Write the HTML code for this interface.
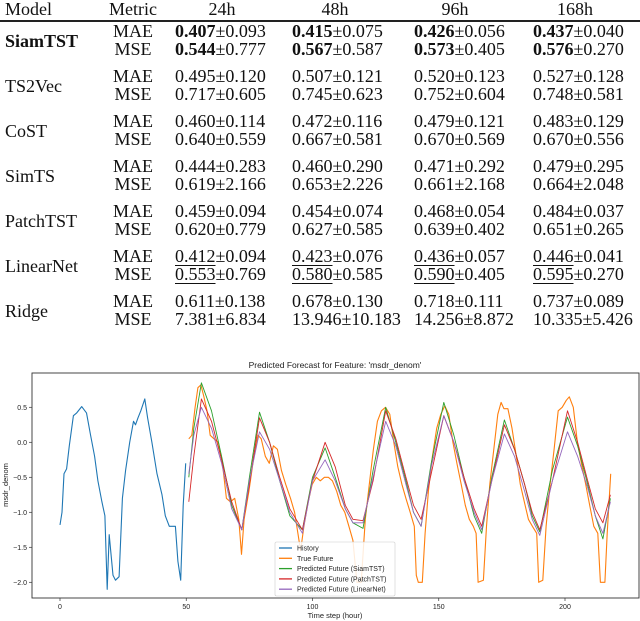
<!DOCTYPE html>
<html><head><meta charset="utf-8">
<style>
body{margin:0;width:640px;height:621px;background:#fff;position:relative;overflow:hidden;font-family:"Liberation Serif",serif;}
.t{position:absolute;font-size:18px;line-height:18px;color:#111;white-space:nowrap;}
.c{transform:translateX(-50%);}
b{font-weight:bold}
u{text-decoration:underline;text-underline-offset:3px}
</style></head><body>
<div id="tbl"></div>
<div style="position:absolute;left:0;top:20px;width:640px;height:1.5px;background:#222"></div>
<svg id="chart" width="640" height="621" style="position:absolute;left:0;top:0" font-family="Liberation Sans, sans-serif"></svg>
<script>
// ---- table data ----
const models=["SiamTST","TS2Vec","CoST","SimTS","PatchTST","LinearNet","Ridge"];
const horizons=["24h","48h","96h","168h"];
const maeVals=[["0.407±0.093","0.415±0.075","0.426±0.056","0.437±0.040"],["0.495±0.120","0.507±0.121","0.520±0.123","0.527±0.128"],["0.460±0.114","0.472±0.116","0.479±0.121","0.483±0.129"],["0.444±0.283","0.460±0.290","0.471±0.292","0.479±0.295"],["0.459±0.094","0.454±0.074","0.468±0.054","0.484±0.037"],["0.412±0.094","0.423±0.076","0.436±0.057","0.446±0.041"],["0.611±0.138","0.678±0.130","0.718±0.111","0.737±0.089"]];
const mseVals=[["0.544±0.777","0.567±0.587","0.573±0.405","0.576±0.270"],["0.717±0.605","0.745±0.623","0.752±0.604","0.748±0.581"],["0.640±0.559","0.667±0.581","0.670±0.569","0.670±0.556"],["0.619±2.166","0.653±2.226","0.661±2.168","0.664±2.048"],["0.620±0.779","0.627±0.585","0.639±0.402","0.651±0.265"],["0.553±0.769","0.580±0.585","0.590±0.405","0.595±0.270"],["7.381±6.834","13.946±10.183","14.256±8.872","10.335±5.426"]];
const tbl=document.getElementById('tbl');
function cell(txt,x,y,center,name){const d=document.createElement('div');d.className='t'+(center?' c':'');d.style.left=x+'px';d.style.top=(y-9)+'px';d.innerHTML=txt;


tbl.appendChild(d);}
cell('Model',5,9,false,'header-model');cell('Metric',133,9,true,'header-metric');
const hx=[222,335,455,575],vx=[175,292,414,533];
horizons.forEach((h,i)=>cell(h,hx[i],9,true,'header-'+h));
function fmt(s,gi){const p=s.split('±');if(gi===0)return '<b>'+p[0]+'</b>±'+p[1];if(gi===5)return '<u>'+p[0]+'</u>±'+p[1];return s;}
models.forEach((m,g)=>{const y=31+45*g;
cell(g===0?'<b>'+m+'</b>':m,5,y+10,false,'model-'+m.toLowerCase());
cell('MAE',133,y,true,'metric-mae');cell('MSE',133,y+18,true,'metric-mse');
for(let i=0;i<4;i++){cell(fmt(maeVals[g][i],g),vx[i],y,false,'mae-value');cell(fmt(mseVals[g][i],g),vx[i],y+18,false,'mse-value');}
});

// ---- chart data ----
const histT=[0,0.8,1.6,2.6,3.7,5.3,6.6,8.6,10.5,12.1,13.7,15.0,16.6,17.8,18.7,19.5,21.0,22.0,23.4,24.7,26.0,27.6,29.1,29.9,30.9,32.0,33.6,34.7,36.4,38.4,40.4,41.7,43.3,45.7,46.7,47.8,48.8,49.8];
const histV=[-1.18,-1.0,-0.45,-0.38,-0.05,0.38,0.42,0.51,0.42,0.1,-0.2,-0.55,-0.85,-1.05,-2.1,-1.32,-1.9,-1.97,-1.92,-0.8,-0.4,0.0,0.3,0.25,0.35,0.45,0.62,0.35,0.0,-0.45,-0.75,-1.05,-1.2,-1.2,-1.7,-1.97,-0.9,-0.3];
const trueT=[51,52.2,53.5,54.6,55.8,57,58.2,59.5,61,62.7,64.3,65.9,67.5,69.2,70.8,71.9,72.9,74.8,76.8,78.4,79.7,81.3,82.9,84.5,86.1,87.7,89.4,91.3,92.9,94.2,95.3,96.6,98.3,99.9,101.5,103.1,104.7,106.3,107.9,109.6,111.2,112.8,114.4,116,117.6,119.3,120.9,122.5,124.1,125.7,127.3,128.9,130.6,132.2,133.8,135.4,137,138.7,140.3,141.1,141.9,143.5,144.6,145.9,147.5,149.2,150.8,152.4,154,155.6,157.2,158.9,160.5,162.1,163.7,164.8,165.6,167.7,168.9,170.2,171.8,173.4,174.7,175.8,177.4,179,180.7,182.3,183.9,185.5,187.1,188.8,189.6,191.2,192.5,194.1,195.7,197.3,198.9,200.5,201.7,203.3,204.9,206.5,208.2,209.8,211.4,213,214,215.8,216.7,218.1];
const trueV=[0.05,0.1,0.5,0.78,0.82,0.65,0.45,0.1,0.05,0.0,-0.3,-0.8,-0.85,-0.8,-1.1,-1.6,-1.1,-0.7,-0.2,0.1,0.05,-0.2,-0.3,-0.05,-0.1,-0.4,-0.6,-0.8,-1.0,-1.3,-1.55,-1.2,-0.85,-0.6,-0.5,-0.55,-0.5,-0.5,-0.55,-0.7,-0.9,-1.0,-1.2,-1.4,-2.0,-2.0,-1.1,-0.6,-0.1,0.3,0.45,0.5,0.4,0.0,-0.35,-0.6,-0.8,-1.0,-1.2,-1.9,-2.0,-2.0,-1.3,-0.7,-0.2,0.2,0.4,0.52,0.4,0.0,-0.3,-0.6,-0.9,-1.1,-1.2,-1.3,-2.0,-1.97,-1.2,-0.6,-0.1,0.4,0.57,0.48,0.48,0.2,-0.2,-0.6,-0.85,-1.1,-1.2,-1.3,-2.0,-1.97,-1.2,-0.6,-0.1,0.45,0.5,0.6,0.65,0.5,0.0,-0.3,-0.6,-0.9,-1.2,-1.3,-2.0,-2.0,-1.3,-0.45];
const predT=[51,53,56,60,64,68,72,75,79,83,87,91,96,100,105,109,113,116,120,124,129,133,137,140,143,147,152,156,160,164,167,171,176,180,184,187,190,195,201,205,209,212,215,218];
const siamV=[-0.5,0.2,0.85,0.45,-0.2,-0.9,-1.25,-0.5,0.43,0.0,-0.55,-1.05,-1.25,-0.5,-0.08,-0.5,-0.95,-1.15,-1.23,-0.4,0.5,0.0,-0.55,-1.0,-1.2,-0.3,0.57,0.1,-0.5,-1.05,-1.3,-0.5,0.32,-0.1,-0.6,-1.05,-1.28,-0.4,0.36,-0.05,-0.6,-1.05,-1.38,-0.8];
const patchV=[-0.85,-0.2,0.62,0.3,-0.25,-0.85,-1.25,-0.6,0.35,0.0,-0.5,-0.95,-1.25,-0.55,0.0,-0.35,-0.9,-1.1,-1.12,-0.55,0.45,0.05,-0.5,-0.9,-1.1,-0.45,0.38,0.0,-0.5,-0.95,-1.2,-0.55,0.25,-0.1,-0.6,-1.0,-1.25,-0.55,0.45,0.0,-0.55,-0.95,-1.15,-0.75];
const linV=[-0.45,0.1,0.5,0.2,-0.3,-0.95,-1.25,-0.55,0.15,-0.1,-0.55,-1.0,-1.3,-0.55,-0.25,-0.55,-0.95,-1.15,-1.15,-0.5,0.3,-0.05,-0.6,-1.0,-1.2,-0.35,0.38,0.0,-0.55,-1.0,-1.25,-0.55,0.12,-0.2,-0.7,-1.1,-1.33,-0.55,0.15,-0.2,-0.65,-1.05,-1.3,-0.85];
const xTicks=[0,50,100,150,200];
const yTicks=[0.5,0.0,-0.5,-1.0,-1.5,-2.0];
const yTickLabels=["0.5","0.0","\u22120.5","\u22121.0","\u22121.5","\u22122.0"];

const NS='http://www.w3.org/2000/svg',svg=document.getElementById('chart');
const L=32,R=639,T=373,B=598;
const xs=t=>60+t*2.525, ys=v=>442.3-v*70;
function el(tag,attrs,parent){const e=document.createElementNS(NS,tag);for(const k in attrs)e.setAttribute(k,attrs[k]);(parent||svg).appendChild(e);return e;}
const title=el('text',{x:335,y:368,'text-anchor':'middle','font-size':'8.5',fill:'#222'});title.textContent="Predicted Forecast for Feature: 'msdr_denom'";


const frame=el('rect',{x:L,y:T,width:R-L,height:B-T,fill:'none',stroke:'#333','stroke-width':'0.9'});


xTicks.forEach(t=>{const x=xs(t);el('line',{x1:x,x2:x,y1:B,y2:B+3,stroke:'#333','stroke-width':'0.7'});
const tx=el('text',{x:x,y:B+11,'text-anchor':'middle','font-size':'7',fill:'#222'});tx.textContent=t;

});
yTicks.forEach((v,i)=>{const y=ys(v);el('line',{x1:L-3,x2:L,y1:y,y2:y,stroke:'#333','stroke-width':'0.7'});
const tx=el('text',{x:L-5,y:y+2.5,'text-anchor':'end','font-size':'7',fill:'#222'});tx.textContent=yTickLabels[i];

});
const xl=el('text',{x:335,y:618,'text-anchor':'middle','font-size':'7.5',fill:'#222'});xl.textContent='Time step (hour)';


const yl=el('text',{x:0,y:0,'text-anchor':'middle','font-size':'7.5',fill:'#222',transform:'translate(8,485) rotate(-90)'});yl.textContent='msdr_denom';


function line(T_,V,color,w,name){const d=T_.map((t,i)=>(i?'L':'M')+xs(t).toFixed(1)+','+ys(V[i]).toFixed(1)).join('');
const p=el('path',{d:d,fill:'none',stroke:color,'stroke-width':w,'stroke-linejoin':'round'});

}
line(histT,histV,'#1f77b4',1.1,'history-line');
line(trueT,trueV,'#ff7f0e',1.1,'true-future-line');
line(predT,siamV,'#2ca02c',0.9,'siamtst-line');
line(predT,patchV,'#d62728',0.9,'patchtst-line');
line(predT,linV,'#9467bd',0.9,'linearnet-line');
// legend
const lg=el('g',{});


el('rect',{x:275,y:542,width:120,height:54,fill:'#fff','fill-opacity':'0.85',stroke:'#ccc','stroke-width':'0.6',rx:1.5},lg);
const legNames=['History','True Future','Predicted Future (SiamTST)','Predicted Future (PatchTST)','Predicted Future (LinearNet)'];
const legCols=['#1f77b4','#ff7f0e','#2ca02c','#d62728','#9467bd'];
legNames.forEach((n,i)=>{const y=548+i*10.3;
el('line',{x1:279,x2:292,y1:y,y2:y,stroke:legCols[i],'stroke-width':1.3},lg);
const tx=el('text',{x:297,y:y+2.5,'font-size':'7',fill:'#222'},lg);tx.textContent=n;

});
</script>
</body></html>
